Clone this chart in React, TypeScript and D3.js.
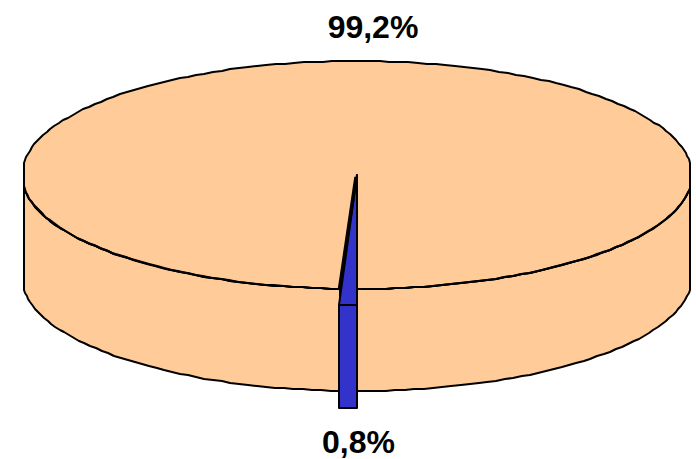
import React from "react";
import * as d3 from "d3";

const categories = ["Blue share", "Peach share"];
const values = [0.8, 99.2];
const labels = ["0,8%", "99,2%"];
const colors = ["#3333CC", "#FFCC99"];

const W = 696, H = 459;
const cx = 357, cy = 175, rx = 335, ry = 114, depth = 102, explode = 16, halfWidth = 333;

const arcs = d3.pie<number>().sort(null).startAngle(Math.PI).endAngle(3 * Math.PI)(values);
// Ellipse slightly wider than the plotted area and clipped, which gives the short vertical flats at both ends.
const px = (a: number) => cx + Math.max(-halfWidth, Math.min(halfWidth, rx * Math.sin(a)));
const py = (a: number, dy = 0) => cy - ry * Math.cos(a) + dy;
// The reference outline is a stepped polygon snapped to whole pixels.
const samples = (a0: number, a1: number) => {
  const n = Math.max(2, Math.ceil(Math.abs(a1 - a0) / (Math.PI / 110)));
  return d3.range(n + 1).map((i) => a0 + ((a1 - a0) * i) / n);
};
const line = d3.line<[number, number]>();
const rim = (a0: number, a1: number, dy = 0): [number, number][] =>
  samples(a0, a1).map((a) => [Math.round(px(a)), Math.round(py(a, dy))]);

const blue = arcs[0], peach = arcs[1];
const stroke = "#000";

export default function App() {
  const rimTop = rim(peach.startAngle, peach.endAngle);
  const frontLeft = rim(1.5 * Math.PI, peach.startAngle);
  const frontRight = rim(2.5 * Math.PI, peach.endAngle);
  const wallLeft = [...frontLeft, ...rim(peach.startAngle, 1.5 * Math.PI, depth)];
  const wallRight = [...frontRight, ...rim(peach.endAngle, 2.5 * Math.PI, depth)];
  const peachTop: [number, number][] = [[cx, cy], ...rimTop];

  const bx0 = Math.floor(px(blue.endAngle)) - 1, bx1 = Math.round(px(blue.startAngle));
  const rimY = Math.round(py(blue.startAngle)) + explode;
  const blueTop: [number, number][] = [[bx1, cy], [bx1, rimY], [bx0, rimY]];
  const blueFront: [number, number][] = [[bx0, rimY], [bx1, rimY], [bx1, rimY + depth + 1], [bx0, rimY + depth + 1]];
  const slant: [number, number][] = [[bx1 - 1, cy + 2], [bx0 + 0.5, rimY - explode]];

  return (
    <svg width={W} height={H} style={{ position: "absolute", left: 0, top: 0, background: "#fff" }}
      fontFamily="'Liberation Sans', Arial, sans-serif">
      <g stroke={stroke} strokeWidth={2} strokeLinejoin="round">
        <path d={line(wallLeft) + "Z"} fill={colors[1]} />
        <path d={line(wallRight) + "Z"} fill={colors[1]} />
        <path d={line(peachTop) + "Z"} fill={colors[1]} />
        <path d={line(frontLeft)!} fill="none" />
        <path d={line(frontRight)!} fill="none" />
        <path d={line(blueFront) + "Z"} fill={colors[0]} />
        <path d={line(blueTop) + "Z"} fill={colors[0]} />
        <path d={line(slant)!} fill="none" strokeWidth={3.5} />
      </g>
      <g fontWeight="bold" fontSize={32} textAnchor="middle" fill="#000">
        <text x={358.5} y={453} aria-label={categories[0]}>{labels[0]}</text>
        <text x={373} y={38} aria-label={categories[1]}>{labels[1]}</text>
      </g>
    </svg>
  );
}
